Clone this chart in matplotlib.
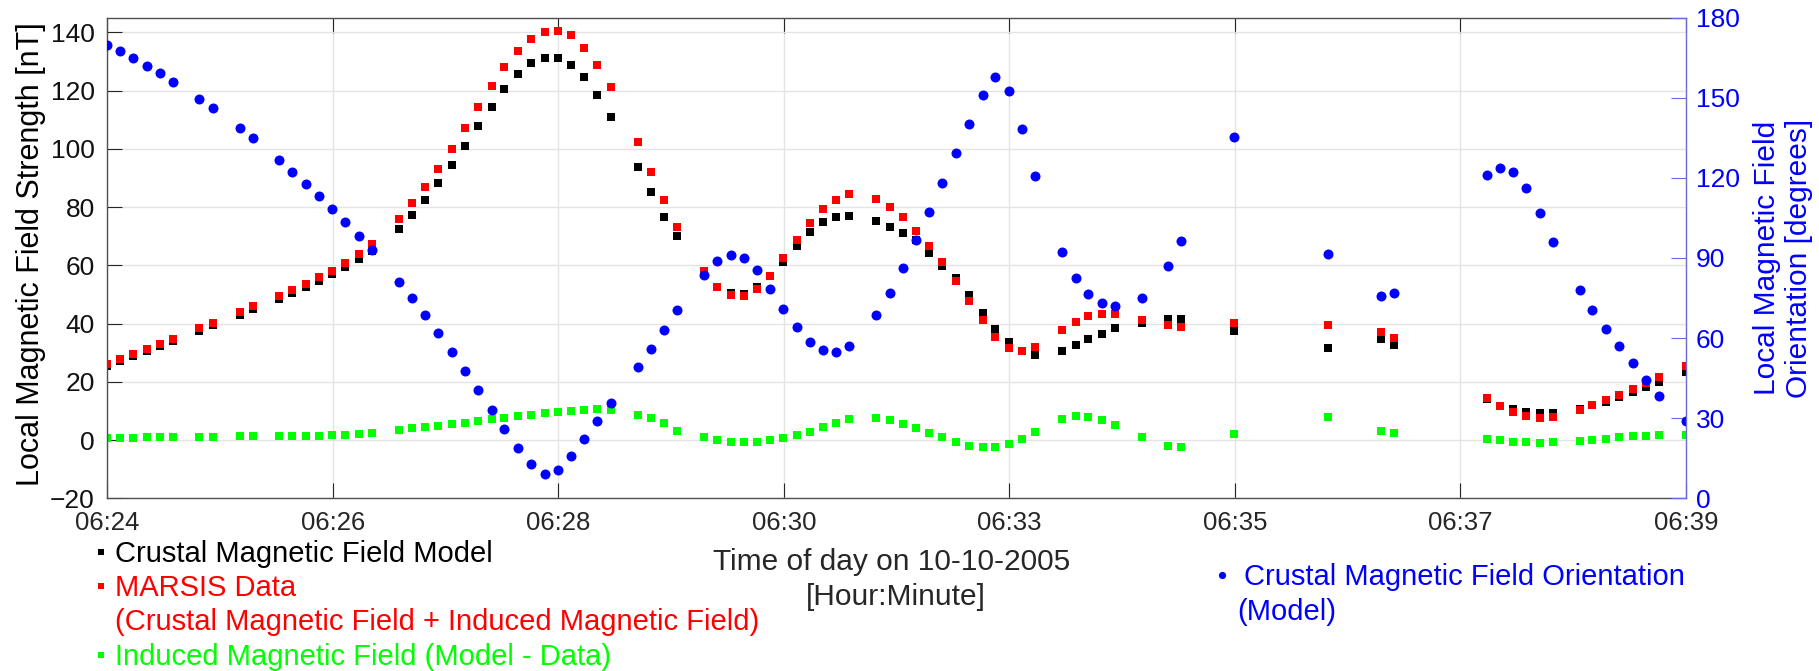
import matplotlib
matplotlib.use("Agg")
import matplotlib.pyplot as plt
from matplotlib.lines import Line2D
import numpy as np

plt.rcParams['font.family'] = ['Liberation Sans', 'DejaVu Sans']

# ---- data ----
# time in seconds after 06:24:00 on 10-10-2005
time_s = [0.0, 7.4, 14.7, 22.6, 29.9, 37.6, 52.5, 60.3, 75.5, 82.9,
          97.9, 105.3, 113.3, 120.5, 128.3, 135.7, 143.5, 150.9, 166.1, 173.5,
          181.3, 188.7, 196.5, 203.9, 211.3, 219.1, 226.3, 234.3, 241.5, 249.5,
          256.8, 264.2, 271.9, 279.4, 287.3, 302.4, 309.8, 317.2, 325.0, 340.2,
          347.6, 355.4, 362.8, 370.6, 378.0, 385.2, 393.0, 400.4, 408.2, 415.6,
          423.0, 438.2, 446.0, 453.4, 461.2, 468.6, 476.0, 483.8, 491.1, 499.0,
          506.3, 514.2, 521.6, 528.9, 544.1, 552.1, 559.3, 567.1, 574.5, 589.9,
          604.9, 612.3, 642.5, 695.7, 725.9, 733.3, 786.4, 793.8, 801.6, 809.0,
          816.8, 824.2, 839.4, 846.6, 854.4, 861.8, 869.6, 877.0, 884.8, 900.0]

marsis_nT = [26.1, 27.7, 29.6, 31.3, 33.1, 34.8, 38.5, 40.3, 44.1, 45.9,
             49.6, 51.6, 53.7, 55.9, 58.2, 60.7, 63.9, 67.2, 75.9, 81.3,
             86.9, 93.1, 99.9, 107.0, 114.4, 121.5, 128.0, 133.5, 137.6, 140.2,
             140.6, 139.0, 134.7, 128.8, 121.1, 102.3, 92.1, 82.5, 73.0, 58.0,
             52.7, 49.8, 49.6, 52.0, 56.4, 62.4, 68.7, 74.4, 79.3, 82.4,
             84.4, 82.8, 80.1, 76.5, 71.9, 66.7, 61.0, 54.6, 47.7, 41.2,
             35.4, 31.7, 30.7, 32.1, 37.8, 40.6, 42.6, 43.3, 43.3, 41.2,
             39.5, 38.9, 40.1, 39.5, 37.2, 35.1, 14.3, 11.8, 9.7, 8.4,
             7.7, 7.8, 10.4, 11.9, 13.7, 15.5, 17.6, 19.5, 21.7, 25.5]

model_nT = [25.4, 27.1, 28.8, 30.6, 32.3, 34.0, 37.5, 39.4, 43.0, 44.9,
            48.5, 50.5, 52.5, 54.6, 56.9, 59.4, 62.2, 64.9, 72.5, 77.2,
            82.5, 88.1, 94.4, 101.1, 107.8, 114.4, 120.4, 125.7, 129.4, 131.1,
            131.1, 128.8, 124.5, 118.5, 110.9, 93.8, 85.1, 76.7, 69.9, 56.9,
            52.7, 50.4, 50.3, 52.6, 56.4, 61.2, 66.7, 71.5, 74.9, 76.7,
            76.9, 75.2, 73.3, 71.0, 68.7, 64.3, 59.9, 55.7, 49.9, 43.7,
            38.0, 33.5, 30.5, 29.1, 30.7, 32.5, 34.6, 36.5, 38.3, 40.3,
            41.6, 41.6, 37.3, 31.7, 34.8, 32.6, 14.1, 11.8, 10.5, 9.5,
            9.2, 9.2, 10.6, 11.9, 12.9, 14.9, 16.4, 18.3, 20.0, 23.5]

induced_nT = [0.6, 0.6, 0.6, 0.9, 0.9, 0.9, 1.1, 1.1, 1.4, 1.4,
              1.4, 1.4, 1.4, 1.4, 1.6, 1.7, 2.1, 2.3, 3.4, 4.0,
              4.5, 4.9, 5.5, 6.0, 6.4, 7.1, 7.7, 8.2, 8.6, 9.2,
              9.6, 10.0, 10.3, 10.5, 10.2, 8.7, 7.4, 5.7, 3.1, 1.1,
              0.0, -0.6, -0.6, -0.6, 0.0, 0.6, 1.7, 2.9, 4.5, 6.0,
              7.1, 7.7, 6.8, 5.6, 4.0, 2.5, 0.9, -0.6, -1.9, -2.3,
              -2.3, -1.5, 0.2, 2.9, 7.2, 8.2, 8.0, 6.9, 5.0, 0.9,
              -2.1, -2.5, 2.2, 7.9, 3.1, 2.3, 0.2, 0.0, -0.6, -0.8,
              -1.0, -0.8, -0.2, 0.0, 0.3, 0.9, 1.3, 1.5, 1.6, 1.7]

orientation_deg = [169.8, 167.5, 164.8, 161.9, 159.2, 156.0, 149.4, 146.0, 138.6, 135.1,
                   126.6, 122.3, 117.7, 113.2, 108.4, 103.5, 98.1, 93.0, 81.1, 74.9,
                   68.5, 61.9, 54.7, 47.7, 40.6, 33.2, 25.8, 18.7, 12.9, 9.1,
                   10.5, 16.0, 22.1, 29.0, 35.6, 49.3, 56.0, 63.0, 70.7, 83.5,
                   88.8, 91.1, 90.1, 85.5, 78.4, 70.9, 64.0, 58.7, 55.5, 54.7,
                   56.9, 68.5, 76.9, 86.4, 96.6, 107.2, 118.1, 129.2, 140.3, 151.0,
                   157.7, 152.5, 138.3, 120.8, 92.1, 82.6, 76.6, 73.3, 72.2, 74.9,
                   87.1, 96.5, 135.4, 91.6, 75.6, 76.8, 121.0, 123.8, 122.1, 116.1,
                   106.8, 96.1, 78.1, 70.6, 63.5, 56.9, 50.6, 44.4, 38.4, 28.8]

x_tick_labels = ['06:24', '06:26', '06:28', '06:30', '06:33', '06:35', '06:37', '06:39']
left_ticks = [-20, 0, 20, 40, 60, 80, 100, 120, 140]
right_ticks = [0, 30, 60, 90, 120, 150, 180]

legend_labels = ['Crustal Magnetic Field Model',
                 'MARSIS Data',
                 '(Crustal Magnetic Field + Induced Magnetic Field)',
                 'Induced Magnetic Field (Model - Data)']
orient_label = ['Crustal Magnetic Field Orientation', '(Model)']

# ---- figure ----
W, H = 1819, 671
fig = plt.figure(figsize=(W / 100, H / 100), dpi=100)

def fx(px):
    return px / W

def fy(py):
    return 1 - py / H

ax_l, ax_r, ax_t, ax_b = 107.3, 1686.0, 17.7, 498.3
ax = fig.add_axes([fx(ax_l), fy(ax_b), (ax_r - ax_l) / W, (ax_b - ax_t) / H])

AXC = '#262626'
ax.set_xlim(0, 900)
ax.set_ylim(-20, 145)
ax.set_xticks(np.linspace(0, 900, len(x_tick_labels)))
ax.set_xticklabels(x_tick_labels)
ax.set_yticks(left_ticks)
ax.grid(True, color='#e4e4e4', linewidth=1.0)
ax.set_axisbelow(True)

sq = 5.9
ax.plot(time_s, model_nT, 's', color='#000000', ms=sq, mew=0)
ax.plot(time_s, marsis_nT, 's', color='#ff0000', ms=sq, mew=0)
ax.plot(time_s, induced_nT, 's', color='#00ff00', ms=sq, mew=0)

ax.tick_params(axis='x', direction='in', length=11, top=True, bottom=True,
               labelsize=18.5, pad=9, color=AXC, labelcolor=AXC, width=0.8)
ax.tick_params(axis='y', direction='in', length=11, left=True, right=False,
               labelsize=19, pad=9, color=AXC, labelcolor='#111111', width=0.8)
for s in ['left', 'bottom', 'top']:
    ax.spines[s].set_color('#505050')
    ax.spines[s].set_linewidth(1.0)
ax.spines['right'].set_visible(False)

ax2 = ax.twinx()
ax2.set_ylim(0, 180)
ax2.set_yticks(right_ticks)
ax2.plot(time_s, orientation_deg, 'o', color='#0000ff', ms=7.2, mew=0)
ax2.tick_params(axis='y', direction='in', length=11, right=True,
                labelsize=19, pad=7, color='#6b6bdd', labelcolor='#0000ff', width=0.8)
for s in ['left', 'bottom', 'top']:
    ax2.spines[s].set_visible(False)
ax2.spines['right'].set_color('#6b6bdd')
ax2.spines['right'].set_linewidth(1.0)

# axis labels
fig.text(fx(31), fy(254), 'Local Magnetic Field Strength [nT]', rotation=90,
         ha='center', va='center', fontsize=22, color='#000000')
fig.text(fx(1783), fy(258), 'Local Magnetic Field\nOrientation [degrees]', rotation=90,
         ha='center', va='center', fontsize=21.5, color='#0000ff', linespacing=1.15,
         multialignment='center')
fig.text(fx(892), fy(570), 'Time of day on 10-10-2005', ha='center', va='baseline',
         fontsize=21.5, color=AXC)
fig.text(fx(896), fy(605), '[Hour:Minute]', ha='center', va='baseline',
         fontsize=21.5, color=AXC)

# legend-like key below the axes
key_colors = ['#000000', '#ff0000', '#ff0000', '#00ff00']
key_base = [561.7, 596.0, 630.5, 665.0]
key_marker = [True, True, False, True]
for lab, col, yb, mk in zip(legend_labels, key_colors, key_base, key_marker):
    fig.text(fx(115), fy(yb), lab, ha='left', va='baseline', fontsize=21, color=col)
    if mk:
        fig.add_artist(Line2D([fx(101)], [fy(yb - 10)], marker='s', ms=4.0, mew=0,
                              color=col, transform=fig.transFigure))

fig.add_artist(Line2D([fx(1222)], [fy(575)], marker='o', ms=5.2, mew=0,
                      color='#0000ff', transform=fig.transFigure))
fig.text(fx(1244), fy(585), orient_label[0], ha='left', va='baseline', fontsize=21,
         color='#0000ff')
fig.text(fx(1237), fy(620), orient_label[1], ha='left', va='baseline', fontsize=21,
         color='#0000ff')

fig.savefig('out.png', dpi=100)
